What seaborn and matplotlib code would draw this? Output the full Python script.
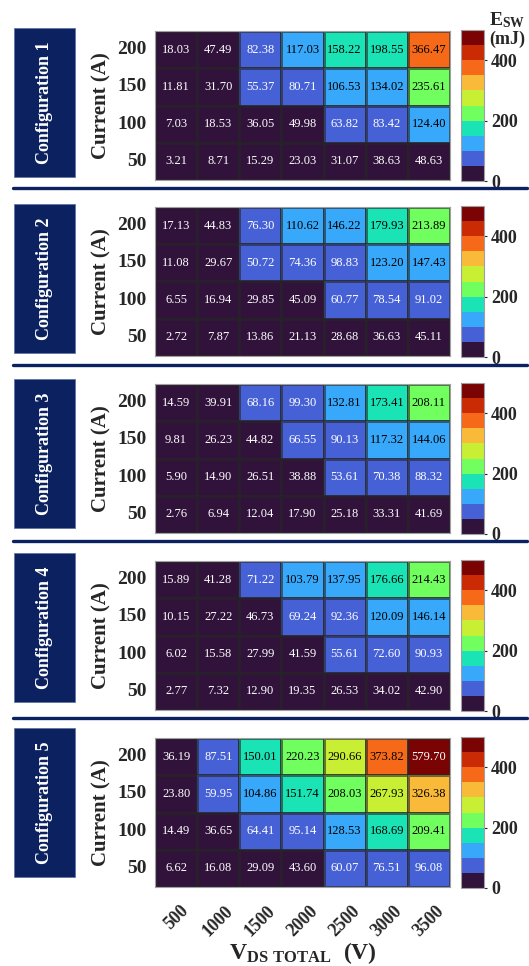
import numpy as np
import pandas as pd
import matplotlib.pyplot as plt
import seaborn as sns
from matplotlib.patches import Rectangle
from matplotlib.lines import Line2D

# data (E_sw in mJ), rows = current 200 -> 50, cols = V_DS total
volts = [500, 1000, 1500, 2000, 2500, 3000, 3500]
currents = [200, 150, 100, 50]
config_names = ['Configuration 1', 'Configuration 2', 'Configuration 3',
                'Configuration 4', 'Configuration 5']

config1 = [[18.03, 47.49, 82.38, 117.03, 158.22, 198.55, 366.47],
           [11.81, 31.70, 55.37, 80.71, 106.53, 134.02, 235.61],
           [7.03, 18.53, 36.05, 49.98, 63.82, 83.42, 124.40],
           [3.21, 8.71, 15.29, 23.03, 31.07, 38.63, 48.63]]
config2 = [[17.13, 44.83, 76.30, 110.62, 146.22, 179.93, 213.89],
           [11.08, 29.67, 50.72, 74.36, 98.83, 123.20, 147.43],
           [6.55, 16.94, 29.85, 45.09, 60.77, 78.54, 91.02],
           [2.72, 7.87, 13.86, 21.13, 28.68, 36.63, 45.11]]
config3 = [[14.59, 39.91, 68.16, 99.30, 132.81, 173.41, 208.11],
           [9.81, 26.23, 44.82, 66.55, 90.13, 117.32, 144.06],
           [5.90, 14.90, 26.51, 38.88, 53.61, 70.38, 88.32],
           [2.76, 6.94, 12.04, 17.90, 25.18, 33.31, 41.69]]
config4 = [[15.89, 41.28, 71.22, 103.79, 137.95, 176.66, 214.43],
           [10.15, 27.22, 46.73, 69.24, 92.36, 120.09, 146.14],
           [6.02, 15.58, 27.99, 41.59, 55.61, 72.60, 90.93],
           [2.77, 7.32, 12.90, 19.35, 26.53, 34.02, 42.90]]
config5 = [[36.19, 87.51, 150.01, 220.23, 290.66, 373.82, 579.70],
           [23.80, 59.95, 104.86, 151.74, 208.03, 267.93, 326.38],
           [14.49, 36.65, 64.41, 95.14, 128.53, 168.69, 209.41],
           [6.62, 16.08, 29.09, 43.60, 60.07, 76.51, 96.08]]
configs = [config1, config2, config3, config4, config5]

sns.set_style('white')
plt.rcParams['font.family'] = ['Liberation Serif', 'DejaVu Serif']
plt.rcParams['mathtext.fontset'] = 'custom'
plt.rcParams['mathtext.rm'] = 'Liberation Serif'
plt.rcParams['mathtext.bf'] = 'Liberation Serif:bold'

W, H = 529, 966
fig = plt.figure(figsize=(W / 100, H / 100), dpi=100)

def px(x0, y0, x1, y1):
    # pixel box (top-left origin) -> figure rect
    return [x0 / W, 1 - y1 / H, (x1 - x0) / W, (y1 - y0) / H]

navy = '#0b2160'
cmap = plt.get_cmap('turbo', 10)

hm_tops = [31, 207, 384, 561, 738]
box_tops = [28, 204, 379, 553, 728]
seps = [188, 365, 541, 718]

for i, (name, vals) in enumerate(zip(config_names, configs)):
    df = pd.DataFrame(vals, index=currents, columns=volts)
    top = hm_tops[i]
    ax = fig.add_axes(px(155, top, 450, top + 149))
    cax = fig.add_axes(px(461, top - 1, 484, top + 150))
    sns.heatmap(df, ax=ax, cmap=cmap, vmin=0, vmax=500, cbar_ax=cax,
                annot=True, fmt='.2f', annot_kws={'fontsize': 9},
                linewidths=0.8, linecolor=(0.15, 0.15, 0.15, 0.6),
                cbar_kws={'ticks': [0, 200, 400]})
    # white text on the darkest and the top band, black elsewhere
    flat = np.array(vals).ravel()
    for t, v in zip(ax.texts, flat):
        t.set_color('white' if (v < 100 or v >= 450) else 'black')

    for s in ax.spines.values():
        s.set_visible(True)
        s.set_color('#a0a0a0')
        s.set_linewidth(0.8)
    ax.tick_params(axis='both', length=0, pad=6)
    ax.set_yticklabels(currents, rotation=0, fontsize=14, fontweight='bold')
    ax.set_ylabel('Current (A)', fontsize=15, fontweight='bold', labelpad=4)
    if i == len(configs) - 1:
        ax.set_xticklabels(volts, rotation=45, fontsize=13, fontweight='bold')
        ax.tick_params(axis='x', pad=11)
        ax.set_xlabel(r'$\mathbf{V_{DS\ TOTAL}}$  (V)', fontsize=17,
                      fontweight='bold', labelpad=0)
    else:
        ax.set_xticklabels([])
        ax.set_xlabel('')

    cbar = ax.collections[0].colorbar
    cbar.outline.set_edgecolor('#a0a0a0')
    cbar.outline.set_linewidth(0.8)
    cax.tick_params(length=2, width=0.8, pad=3)
    for lb in cax.get_yticklabels():
        lb.set_fontsize(13)
        lb.set_fontweight('bold')

    # configuration label box
    bt = box_tops[i]
    fig.add_artist(Rectangle((14 / W, 1 - (bt + 149) / H), 61 / W, 149 / H,
                             transform=fig.transFigure, facecolor=navy,
                             edgecolor='#5a6fa0', linewidth=0.5))
    fig.text(44.5 / W, 1 - (bt + 74.5) / H, name, rotation=90, color='white',
             fontsize=13, fontweight='bold', ha='center', va='center')

for y in seps:
    fig.add_artist(Line2D([13 / W, 527 / W], [1 - y / H, 1 - y / H],
                          transform=fig.transFigure, color=navy,
                          linewidth=2.4, solid_capstyle='round'))

fig.text(507 / W, 1 - 20 / H, r'$\mathbf{E_{SW}}$', fontsize=14,
         ha='center', va='center')
fig.text(507 / W, 1 - 39 / H, '(mJ)', fontsize=13, fontweight='bold',
         ha='center', va='center')

fig.savefig('out.png', dpi=100)
